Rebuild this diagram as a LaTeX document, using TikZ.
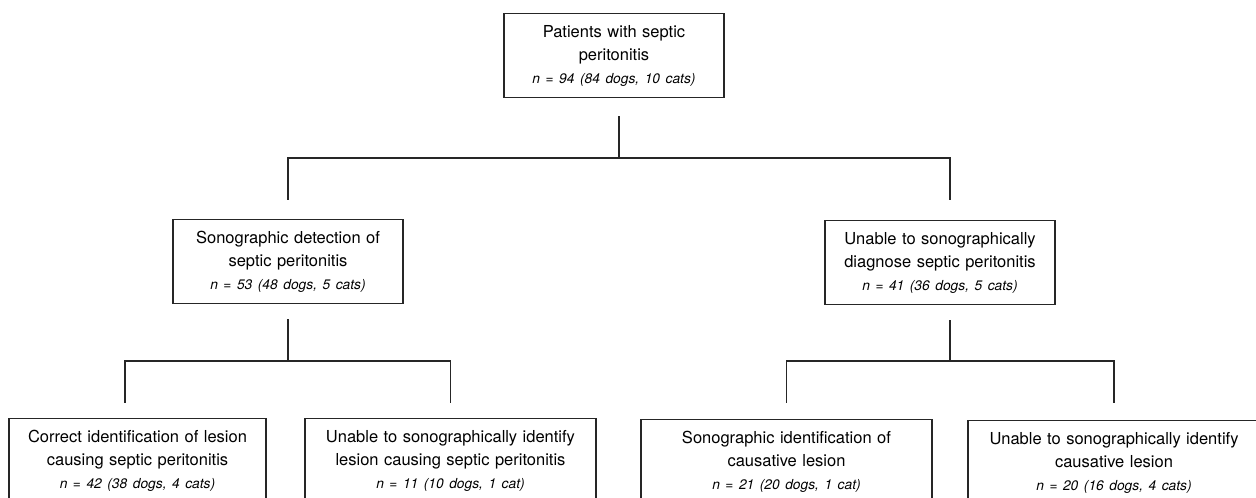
\documentclass[tikz,border=0pt]{standalone}
\usepackage{fontspec}
\setmainfont{TeX Gyre Heros}
\usepackage{tikz}
\usetikzlibrary{positioning}
\tikzstyle{stage} = [draw=black!85, line width=1.4pt,
                     rectangle, anchor=north, align=center,
                     minimum height=84pt, inner xsep=4pt,
                     font=\fontsize{16.5}{23}\selectfont]
\tikzstyle{link} = [draw=black!85, line width=1.6pt]
\newcommand{\tally}[1]{{\fontsize{13.8}{23}\selectfont\itshape #1}}

\begin{document}
\begin{tikzpicture}[x=1pt, y=-1pt]
  \useasboundingbox (0,0) rectangle (1256,498);
  % boxes
  \node[stage, text width=212pt] (all) at (614,13) {Patients with septic\\ peritonitis\\ \tally{n = 94 (84 dogs, 10 cats)}};
  \node[stage, text width=222pt] (detect) at (288,219) {Sonographic detection of\\ septic peritonitis\\ \tally{n = 53 (48 dogs, 5 cats)}};
  \node[stage, text width=222pt] (nodetect) at (940,220) {Unable to sonographically\\ diagnose septic peritonitis\\ \tally{n = 41 (36 dogs, 5 cats)}};
  \node[stage, text width=249pt] (cure) at (137.5,418) {Correct identification of lesion\\ causing septic peritonitis\\ \tally{n = 42 (38 dogs, 4 cats)}};
  \node[stage, text width=283pt] (miss) at (450.5,418) {Unable to sonographically identify\\ lesion causing septic peritonitis\\ \tally{n = 11 (10 dogs, 1 cat)}};
  \node[stage, text width=283pt] (found) at (786.5,419) {Sonographic identification of\\ causative lesion\\ \tally{n = 21 (20 dogs, 1 cat)}};
  \node[stage, text width=284pt] (unfound) at (1114,420) {Unable to sonographically identify\\ causative lesion\\ \tally{n = 20 (16 dogs, 4 cats)}};
  % branch points
  \coordinate (split0) at (619,158);
  \coordinate (split1) at (288,361);
  \coordinate (split2) at (950,361);
  % connectors
  \draw[link, shorten <=18pt] (all.south -| split0) -- (split0);
  \draw[link, shorten >=19pt] (split0) -| (detect.north);
  \draw[link, shorten >=20pt] (split0) -| ([xshift=10pt]nodetect.north);
  \draw[link, shorten <=15pt] (detect.south) -- (split1);
  \draw[link, shorten >=15pt] (split1) -| ([xshift=-12.5pt]cure.north);
  \draw[link, shorten >=15pt] (split1) -| (miss.north);
  \draw[link, shorten <=15pt] ([xshift=10pt]nodetect.south) -- (split2);
  \draw[link, shorten >=16pt] (split2) -| (found.north);
  \draw[link, shorten >=17pt] (split2) -| (unfound.north);
\end{tikzpicture}
\end{document}
